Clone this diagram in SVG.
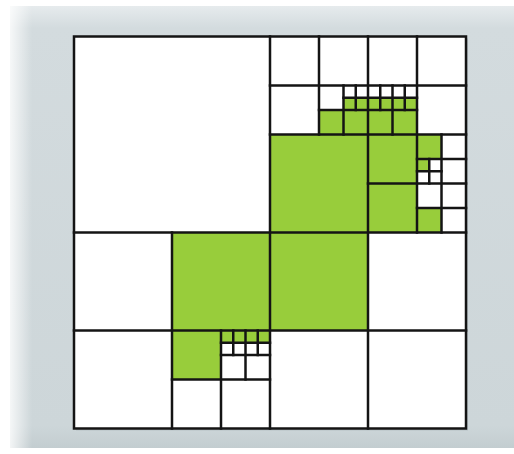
<svg xmlns="http://www.w3.org/2000/svg" width="514" height="454" viewBox="0 0 514 454">
  <defs>
    <linearGradient id="panelV" x1="0" y1="0" x2="0" y2="1">
      <stop offset="0" stop-color="#e6ebed"/>
      <stop offset="0.05" stop-color="#d3dbde"/>
      <stop offset="0.95" stop-color="#cdd6d9"/>
      <stop offset="1" stop-color="#c3cdd0"/>
    </linearGradient>
    <linearGradient id="panelL" x1="0" y1="0" x2="1" y2="0">
      <stop offset="0" stop-color="#ffffff" stop-opacity="0.8"/>
      <stop offset="1" stop-color="#ffffff" stop-opacity="0"/>
    </linearGradient>
    <style>
      .g { fill: #98cd3b; }
      .ln { stroke: #141414; stroke-width: 2.5; fill: none; stroke-linecap: square; }
    </style>
  </defs>
  <rect x="0" y="0" width="514" height="454" fill="#ffffff"/>
  <rect x="10" y="6" width="504" height="442" fill="url(#panelV)"/>
  <rect x="10" y="6" width="22" height="442" fill="url(#panelL)"/>
  <!-- shadow of square -->
  <rect x="76" y="38.5" width="392" height="392" fill="#b8c2c6"/>
  <rect x="74" y="36.5" width="392" height="392" fill="#ffffff"/>
  <g id="filled">
    <rect class="g" x="270" y="134.5" width="98" height="98"/>
    <rect class="g" x="368" y="134.5" width="49" height="98"/>
    <rect class="g" x="417" y="134.5" width="24.5" height="24.5"/>
    <rect class="g" x="417" y="159" width="12.25" height="12.25"/>
    <rect class="g" x="417" y="208" width="24.5" height="24.5"/>
    <rect class="g" x="319" y="110" width="49" height="24.5"/>
    <rect class="g" x="343.5" y="97.75" width="24.5" height="12.25"/>
    <rect class="g" x="368" y="97.75" width="49" height="36.75"/>
    <rect class="g" x="172" y="232.5" width="196" height="98"/>
    <rect class="g" x="172" y="330.5" width="49" height="49"/>
    <rect class="g" x="221" y="330.5" width="49" height="12.25"/>
  </g>
  <g id="grid" class="ln">
    <rect x="74" y="36.5" width="392" height="392"/>
    <path d="M270 36.5V428.5 M172 232.5V428.5 M368 36.5V428.5 M319 36.5V134.5 M417 36.5V232.5 M221 330.5V428.5 M343.5 85.5V134.5 M355.75 85.5V110 M392.5 85.5V134.5 M380.25 85.5V110 M404.75 85.5V110 M441.5 134.5V232.5 M429.25 159V183.5 M245.5 330.5V379.5 M233.25 330.5V355 M257.75 330.5V355"/>
    <path d="M74 232.5H466 M270 134.5H466 M74 330.5H466 M270 85.5H466 M319 110H417 M343.5 97.75H417 M368 183.5H466 M417 159H466 M417 208H466 M417 171.25H441.5 M172 379.5H270 M221 355H270 M221 342.75H270"/>
  </g>
</svg>
